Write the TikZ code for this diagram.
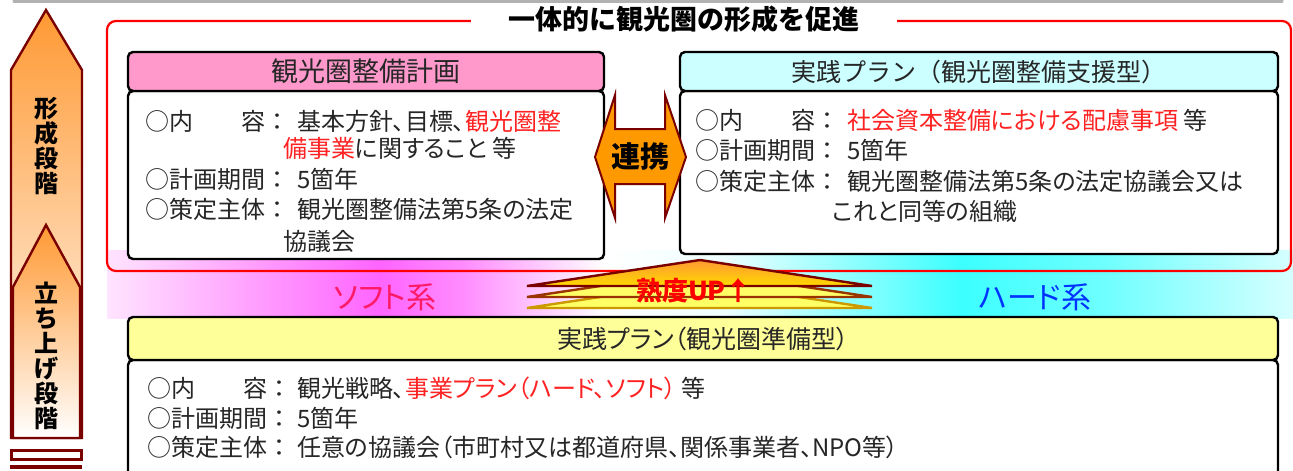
\documentclass[tikz,border=0pt]{standalone}
\usepackage{fontspec}
\setmainfont{Noto Sans CJK JP}[RawFeature=+palt]
\newfontfamily\jpf{Noto Sans CJK JP}
\definecolor{hpink}{HTML}{FF99CC}
\definecolor{hcyan}{HTML}{CCFFFF}
\definecolor{hyel}{HTML}{FFFF99}
\definecolor{tred}{HTML}{FF2222}
\definecolor{tgray}{HTML}{262626}
\definecolor{dred}{HTML}{7A0000}
\definecolor{aor}{HTML}{FF9933}
\definecolor{aor2}{HTML}{FF9900}
\definecolor{softc}{HTML}{FF1A66}
\definecolor{hardc}{HTML}{0033FF}
\definecolor{cyel}{HTML}{FFFF66}
\definecolor{cbrown}{HTML}{993300}
\definecolor{cgold}{HTML}{CC9900}
\definecolor{bpk0}{RGB}{255,228,255}
\definecolor{bpk1}{RGB}{255,100,255}
\definecolor{bpk2}{RGB}{255,140,255}
\definecolor{bwh}{RGB}{255,255,255}
\definecolor{bcy0}{RGB}{238,255,255}
\definecolor{bcy1}{RGB}{60,255,255}
\definecolor{bcy2}{RGB}{110,255,255}
\definecolor{bcy3}{RGB}{215,255,255}
\pgfdeclarehorizontalshading{bandshade}{100bp}{color(0bp)=(bpk0); color(25bp)=(bpk0); color(36.5bp)=(bpk1); color(40bp)=(bpk2); color(46bp)=(bwh); color(51bp)=(bcy0); color(61bp)=(bcy1); color(67bp)=(bcy2); color(75bp)=(bcy3); color(100bp)=(bcy3)}
\begin{document}
\begin{tikzpicture}[x=1pt,y=-1pt,
  boxline/.style={draw=black, line width=2.4pt, rounded corners=5pt},
  hdrbox/.style={boxline, text=tgray, font=\jpf\fontsize{25}{25}\selectfont},
  bodybox/.style={boxline, fill=white},
  tline/.style={anchor=west, inner sep=0pt, text=tgray, font=\fontsize{24}{24}\selectfont},
  tlab/.style={tline, font=\jpf\fontsize{24}{24}\selectfont},
  vtext/.style={font=\jpf\bfseries\fontsize{24}{25}\selectfont, align=center, inner sep=0pt, text=black},
  arrline/.style={draw=dred, line width=2.4pt, line join=miter}]
\useasboundingbox (0,0) rectangle (1293,471);
\clip (0,0) rectangle (1293,471);

% top gray line
\draw[gray!60, line width=3pt, line cap=round] (14,1) -- (1282,1);

% gradient band
\shade[shading=bandshade] (107,250) rectangle (1293,318);

% red frame and title
\draw[red, line width=2.2pt, rounded corners=9pt] (107,21) rectangle (1291,271);
\node[fill=white, inner sep=0pt, minimum width=426pt, minimum height=30pt, text=black,
  font=\jpf\bfseries\fontsize{27}{27}\selectfont] (title) at (684,19) {一体的に観光圏の形成を促進};

% left box
\node[bodybox, minimum width=476pt, minimum height=168pt, inner sep=0pt] (lbody) at (366,175) {};
\node[hdrbox, fill=hpink, minimum width=476pt, minimum height=39pt, inner sep=0pt,
  font=\jpf\fontsize{27}{27}\selectfont] (lhdr) at (366,71.5) {観光圏整備計画};
\node[tlab] (l1a) at (145,121) {○内\hspace{2em}容：};
\node[tline] (l1b) at (297,121) {基本方針、目標、\textcolor{tred}{観光圏整}};
\node[tline] (l2b) at (283,148) {\textcolor{tred}{備事業}に関すること 等};
\node[tlab] (l3a) at (145,179) {○計画期間：};
\node[tline] (l3b) at (297,179) {5箇年};
\node[tlab] (l4a) at (145,209) {○策定主体：};
\node[tline] (l4b) at (297,209) {観光圏整備法第5条の法定};
\node[tline] (l5b) at (283,241) {協議会};

% right box
\node[bodybox, minimum width=598pt, minimum height=163pt, inner sep=0pt] (rbody) at (979,172.5) {};
\node[hdrbox, fill=hcyan, minimum width=598pt, minimum height=39pt, inner sep=0pt] (rhdr) at (979,71.5) {実践プラン（観光圏整備支援型）};
\node[tlab] (r1a) at (695,120) {○内\hspace{2em}容：};
\node[tline] (r1b) at (847,120) {\textcolor{tred}{社会資本整備における配慮事項} 等};
\node[tlab] (r2a) at (695,150) {○計画期間：};
\node[tline] (r2b) at (847,150) {5箇年};
\node[tlab] (r3a) at (695,181) {○策定主体：};
\node[tline] (r3b) at (847,181) {観光圏整備法第5条の法定協議会又は};
\node[tline] (r4b) at (832,211) {これと同等の組織};

% renkei arrow
\draw[arrline, line width=2pt, fill=aor2] (615,95) -- (595,157) -- (615,218) -- (615,184) -- (665,184) -- (665,218) -- (686,157) -- (665,95) -- (665,129) -- (615,129) -- cycle;
\node[font=\jpf\bfseries\fontsize{29}{29}\selectfont, inner sep=0pt, text=black] (renkei) at (640,157) {連携};

% soft / hard
\node[font=\fontsize{30}{30}\selectfont, text=softc, inner sep=0pt] (soft) at (385,297) {ソフト系};
\node[font=\fontsize{30}{30}\selectfont, text=hardc, inner sep=0pt] (hard) at (1035,297) {ハード系};

% maturity chevrons
\draw[draw=cgold, line width=2.4pt, fill=cyel, line join=miter] (700,282) -- (872,308) -- (527,308) -- cycle;
\draw[draw=cbrown, line width=2.4pt, fill=cyel, line join=miter] (700,271) -- (872,297) -- (527,297) -- cycle;
\shade[top color=aor, bottom color=yellow!70!orange] (700,260) -- (872,286) -- (527,286) -- cycle;
\draw[draw=dred, line width=2.4pt, line join=miter] (700,260) -- (872,286) -- (527,286) -- cycle;
\node[font=\jpf\bfseries\fontsize{26}{26}\selectfont, text=red, inner sep=0pt] (up) at (694,291) {熟度UP↑};

% bottom box
\node[bodybox, minimum width=1150pt, minimum height=120pt, inner sep=0pt] (bbody) at (703,420) {};
\node[hdrbox, fill=hyel, minimum width=1150pt, minimum height=43pt, inner sep=0pt,
  font=\fontsize{25}{25}\selectfont] (bhdr) at (703,338.5) {実践プラン（観光圏準備型）};
\node[tlab] (b1a) at (147,388) {○内\hspace{2em}容：};
\node[tline] (b1b) at (297,388) {観光戦略、\textcolor{tred}{事業プラン（ハード、ソフト）} 等};
\node[tlab] (b2a) at (147,418) {○計画期間：};
\node[tline] (b2b) at (297,418) {5箇年};
\node[tlab] (b3a) at (147,447) {○策定主体：};
\node[tline] (b3b) at (297,447) {任意の協議会（市町村又は都道府県、関係事業者、NPO等）};

% left stage arrows
\shade[top color=aor, middle color=white, bottom color=white] (46,10) -- (82,70) -- (82,438) -- (11,438) -- (11,70) -- cycle;
\draw[arrline] (46,10) -- (82,70) -- (82,438) -- (11,438) -- (11,70) -- cycle;
\shade[top color=aor, bottom color=white] (46,225) -- (80,287) -- (80,438) -- (13,438) -- (13,287) -- cycle;
\draw[arrline] (46,225) -- (80,287) -- (80,438) -- (13,438) -- (13,287) -- cycle;
\node[vtext] (stage2) at (46,146) {形\\成\\段\\階};
\node[vtext] (stage1) at (46,356) {立\\ち\\上\\げ\\段\\階};
\draw[draw=dred, line width=3pt, fill=white] (11,450) rectangle (81,459);
\draw[draw=dred, line width=3.5pt] (10,467) -- (82,467);
\end{tikzpicture}
\end{document}
